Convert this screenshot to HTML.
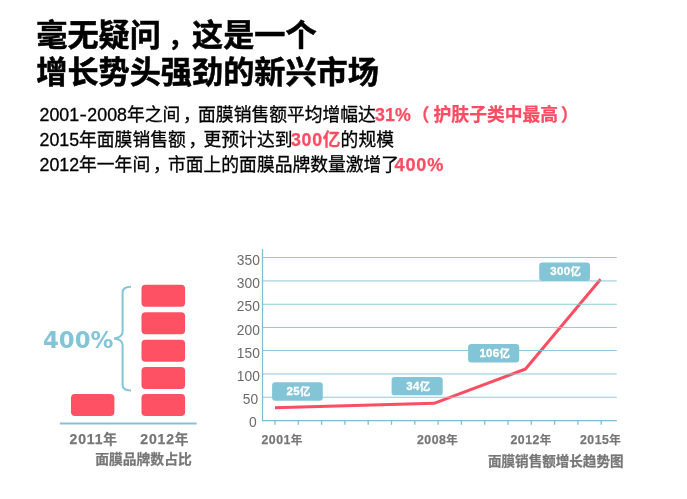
<!DOCTYPE html>
<html lang="zh-CN">
<head>
<meta charset="utf-8">
<title>面膜市场</title>
<style>
html,body{margin:0;padding:0;background:#fff;}
body{width:687px;height:499px;position:relative;overflow:hidden;font-family:"Liberation Sans","Noto Sans CJK SC",sans-serif;}
.abs{position:absolute;white-space:nowrap;}
.title{left:36.3px;top:16.9px;font-size:31.15px;line-height:37.3px;font-weight:bold;color:#000;-webkit-text-stroke:0.55px #000;}
.title .cm{position:relative;left:7.5px;top:0.6px;margin-right:6.15px;line-height:1;font-size:25px;}
.body{left:39.5px;font-size:17.8px;line-height:24px;color:#000;-webkit-text-stroke:0.3px #000;}
.body .cm{position:relative;left:2.8px;}
.body .hy{display:inline-block;width:8.3px;text-align:center;transform:scaleX(1.25);}
.pl{position:relative;left:-4px;}
.pr{position:relative;left:2.6px;}
.red{color:#ff4c63;font-weight:bold;-webkit-text-stroke:0.25px #ff4c63;}
.lbl{font-weight:bold;color:#777;-webkit-text-stroke:0.25px #777;}
.lbl .d{font-size:14px;letter-spacing:0.85px;}
.lbl .e{font-size:12.3px;letter-spacing:0.5px;}
.ax{font-size:13.8px;letter-spacing:0.1px;color:#6a6a6a;text-align:right;width:30px;line-height:14px;}
.tag{color:#fff;font-weight:bold;font-size:11.5px;letter-spacing:0.3px;-webkit-text-stroke:0.3px #fff;text-align:center;line-height:18.8px;height:18.4px;padding-left:2.3px;box-sizing:border-box;}
.tag .yi{font-size:10.4px;}
svg{position:absolute;left:0;top:0;}
</style>
</head>
<body>
<div class="abs title">毫无疑问<span class="cm">，</span>这是一个<br>增长势头强劲的新兴市场</div>
<div class="abs body" style="top:103.4px">2001<span class="hy">-</span>2008年之间<span class="cm">，</span>面膜销售额平均增幅达<span class="red"><span style="letter-spacing:0.2px;margin-left:-1px">31%</span><span style="margin-left:4.7px" class="pl">（</span>护肤子类中最高<span class="pr">）</span></span></div>
<div class="abs body" style="top:127.9px">2015年面膜销售额<span class="cm">，</span>更预计达到<span class="red"><span style="letter-spacing:0.75px;margin-left:-1.6px">300</span>亿</span>的规模</div>
<div class="abs body" style="top:152.6px">2012年一年间<span class="cm">，</span>市面上的面膜品牌数量激增了<span class="red" style="margin-left:-4.6px;letter-spacing:0.8px;font-size:18.1px">400%</span></div>

<svg width="687" height="499" viewBox="0 0 687 499">
  <!-- left bar chart -->
  <g fill="#ff5164">
    <rect x="141.5" y="284.8" width="43.6" height="22" rx="4"/>
    <rect x="141.5" y="312.3" width="43.6" height="22" rx="4"/>
    <rect x="141.5" y="339.7" width="43.6" height="22" rx="4"/>
    <rect x="141.5" y="367" width="43.6" height="22" rx="4"/>
    <rect x="141.5" y="394.1" width="43.6" height="22" rx="4"/>
    <rect x="71" y="394.1" width="43.4" height="22" rx="4"/>
  </g>
  <line x1="59.8" y1="423.5" x2="196.7" y2="423.5" stroke="#83c5d7" stroke-width="2"/>
  <path d="M131 286.7 Q122.6 286.7 122.6 292.6 L122.6 331.6 Q122.6 337.6 114 338.4 Q122.6 339.2 122.6 345.2 L122.6 384.4 Q122.6 390.4 131 390.4" fill="none" stroke="#83c5d7" stroke-width="2"/>
  <!-- right line chart -->
  <polyline points="275,407.7 434,403.3 525.5,369 600.6,279.2" fill="none" stroke="#fd4d63" stroke-width="3" stroke-linejoin="round"/>
  <g stroke="#83c5d7" stroke-width="1" fill="none" opacity="0.92">
    <line x1="262.5" y1="257.55" x2="616.8" y2="257.55"/>
    <line x1="262.5" y1="280.95" x2="616.8" y2="280.95"/>
    <line x1="262.5" y1="304.25" x2="616.8" y2="304.25"/>
    <line x1="262.5" y1="327.45" x2="616.8" y2="327.45"/>
    <line x1="262.5" y1="350.5" x2="616.8" y2="350.5"/>
    <line x1="262.5" y1="374" x2="616.8" y2="374"/>
    <line x1="262.5" y1="397.25" x2="616.8" y2="397.25"/>
  </g>
  <g stroke="#7cc0d2" stroke-width="1.3" fill="none">
    <line x1="262.5" y1="249" x2="262.5" y2="421.2"/>
    <line x1="262" y1="420.55" x2="616.8" y2="420.55"/>
    <path d="M275 420.6v4.2 M298.3 420.6v4.2 M321.6 420.6v4.2 M344.9 420.6v4.2 M368.2 420.6v4.2 M391.5 420.6v4.2 M414.8 420.6v4.2 M438.1 420.6v4.2 M461.4 420.6v4.2 M484.7 420.6v4.2 M508 420.6v4.2 M531.3 420.6v4.2 M554.6 420.6v4.2 M577.9 420.6v4.2 M601.2 420.6v4.2"/>
  </g>
  <g fill="#83c5d7">
    <rect x="272.1" y="382.2" width="50.7" height="18.45" rx="3.2"/>
    <rect x="391.6" y="376.9" width="51.1" height="18.45" rx="3.2"/>
    <rect x="468.1" y="343.95" width="51.1" height="18.45" rx="3.2"/>
    <rect x="539.2" y="262.45" width="50.8" height="18.45" rx="3.2"/>
  </g>
</svg>

<div class="abs" style="left:43px;top:326.3px;font-size:22.8px;line-height:28px;font-weight:bold;color:#83c5d7;font-family:'DejaVu Sans','Liberation Sans',sans-serif;">400%</div>
<div class="abs lbl" style="left:69.5px;top:430.6px;font-size:13.6px;line-height:17px;"><span class="d">2011</span>年</div>
<div class="abs lbl" style="left:140.3px;top:430.6px;font-size:13.6px;line-height:17px;"><span class="d">2012</span>年</div>
<div class="abs lbl" style="left:95.2px;top:450.8px;font-size:13.8px;line-height:17px;">面膜品牌数占比</div>

<div class="abs ax" style="left:230px;top:254px;">350</div>
<div class="abs ax" style="left:230px;top:277.3px;">300</div>
<div class="abs ax" style="left:230px;top:300px;">250</div>
<div class="abs ax" style="left:230px;top:323.7px;">200</div>
<div class="abs ax" style="left:230px;top:347.2px;">150</div>
<div class="abs ax" style="left:230px;top:369.9px;">100</div>
<div class="abs ax" style="left:228.2px;top:393.1px;">50</div>
<div class="abs ax" style="left:226.7px;top:416.2px;">0</div>


<div class="abs tag" style="left:272.1px;top:382.2px;width:50.7px;">25<span class="yi">亿</span></div>
<div class="abs tag" style="left:391.6px;top:376.9px;width:51.1px;">34<span class="yi">亿</span></div>
<div class="abs tag" style="left:468.1px;top:343.95px;width:51.1px;">106<span class="yi">亿</span></div>
<div class="abs tag" style="left:539.2px;top:262.45px;width:50.8px;">300<span class="yi">亿</span></div>

<div class="abs lbl" style="left:261.5px;top:431.7px;font-size:11.5px;line-height:16px;"><span class="e">2001</span>年</div>
<div class="abs lbl" style="left:417px;top:431.7px;font-size:11.5px;line-height:16px;"><span class="e">2008</span>年</div>
<div class="abs lbl" style="left:510.5px;top:431.7px;font-size:11.5px;line-height:16px;"><span class="e">2012</span>年</div>
<div class="abs lbl" style="left:580px;top:431.7px;font-size:11.5px;line-height:16px;"><span class="e">2015</span>年</div>
<div class="abs lbl" style="left:488px;top:452.7px;font-size:13.56px;line-height:17px;">面膜销售额增长趋势图</div>
</body>
</html>
